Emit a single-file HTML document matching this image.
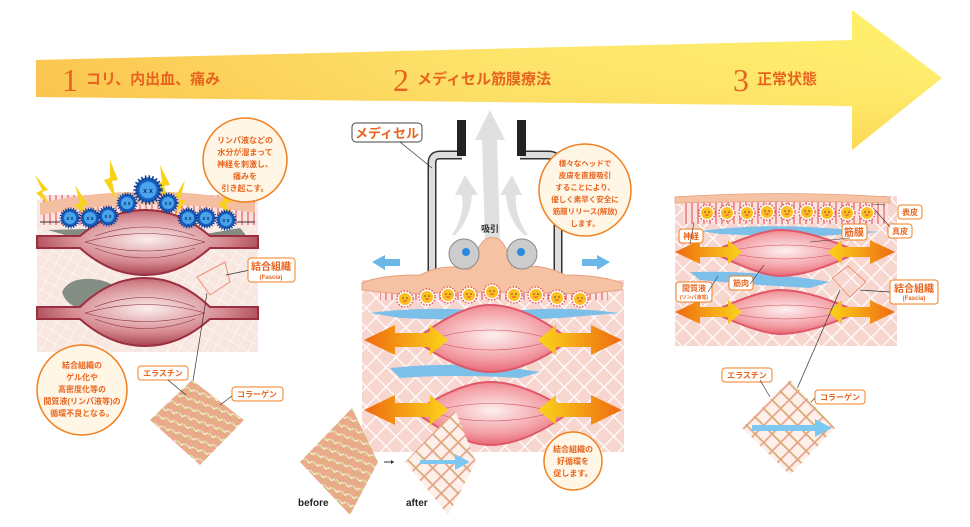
<!DOCTYPE html>
<html><head><meta charset="utf-8"><style>
html,body{margin:0;padding:0;background:#fff;width:970px;height:527px;overflow:hidden}
text{font-family:"Liberation Sans","Noto Sans CJK JP",sans-serif;font-weight:bold}
text.num{font-family:"Liberation Serif",serif;font-weight:normal}
</style></head><body>
<svg width="970" height="527" viewBox="0 0 970 527" xmlns="http://www.w3.org/2000/svg">
<defs>
<linearGradient id="ar" x1="0" y1="0" x2="1" y2="0"><stop offset="0" stop-color="#fbc445"/><stop offset="0.5" stop-color="#fde462"/><stop offset="1" stop-color="#fff066"/></linearGradient>
<linearGradient id="arv" x1="0" y1="0" x2="0" y2="1"><stop offset="0" stop-color="#fff" stop-opacity="0"/><stop offset="1" stop-color="#f5a623" stop-opacity="0.3"/></linearGradient>
<radialGradient id="m1" cx="0.5" cy="0.45" r="0.6"><stop offset="0" stop-color="#fbeeee"/><stop offset="0.6" stop-color="#d4878e"/><stop offset="1" stop-color="#9c3242"/></radialGradient>
<radialGradient id="m2" cx="0.5" cy="0.45" r="0.6"><stop offset="0" stop-color="#fdf0f0"/><stop offset="0.6" stop-color="#f3a0a6"/><stop offset="1" stop-color="#e55a6a"/></radialGradient>
<linearGradient id="oa" x1="0" y1="0" x2="1" y2="0"><stop offset="0" stop-color="#ee6a10"/><stop offset="1" stop-color="#fbd41a"/></linearGradient>
<linearGradient id="ob" x1="1" y1="0" x2="0" y2="0"><stop offset="0" stop-color="#ee6a10"/><stop offset="1" stop-color="#fbd41a"/></linearGradient>
<pattern id="hx" width="14" height="14" patternUnits="userSpaceOnUse" patternTransform="rotate(45)"><rect width="14" height="14" fill="#f8d6d0"/><path d="M0 0H14M0 0V14" stroke="#fff" stroke-width="2.5"/></pattern>
<pattern id="hx1" width="10" height="10" patternUnits="userSpaceOnUse" patternTransform="rotate(30)"><rect width="10" height="10" fill="#f8e6e0"/><path d="M0 0H10M0 0V10" stroke="#fff" stroke-width="1"/></pattern>
<pattern id="nv" width="6" height="20" patternUnits="userSpaceOnUse"><rect width="6" height="20" fill="#fbe3dd"/><path d="M2 0V20" stroke="#e04050" stroke-width="1"/></pattern>
<pattern id="mesh" width="12" height="12" patternUnits="userSpaceOnUse" patternTransform="rotate(45)"><rect width="12" height="12" fill="#fdf0ea"/><path d="M0 0H12M0 0V12" stroke="#eba08a" stroke-width="3.5"/><path d="M0 0H12" stroke="#9ccc3a" stroke-width="0.8"/></pattern>
<pattern id="mess" width="9" height="9" patternUnits="userSpaceOnUse" patternTransform="rotate(20)"><rect width="9" height="9" fill="#eea88e"/><path d="M0 4C3 0 6 8 9 4" stroke="#fde2d6" stroke-width="2" fill="none"/><path d="M0 1L9 8" stroke="#9ccc3a" stroke-width="0.7"/></pattern>
<g id="sun"><circle r="8" fill="#fff" stroke="#e85a5a" stroke-width="1.5" stroke-dasharray="1.5 1.5"/><circle r="6" fill="#fbc020"/><circle cx="-2" cy="-1" r="0.8" fill="#733"/><circle cx="2" cy="-1" r="0.8" fill="#733"/><path d="M-2.5 1.5Q0 4 2.5 1.5" fill="#e44" /></g>
<g id="vir"><circle r="9" fill="#1a5fbf" stroke="#0a3a8a" stroke-width="3" stroke-dasharray="1 1.5"/><circle r="6" fill="#4aa4ec"/><text x="0" y="2" font-size="5" text-anchor="middle" fill="#036">x x</text></g>
</defs>

<path d="M36 60 L852 40 L852 10 L942 78 L852 150 L852 106 L36 97 Z" fill="url(#ar)"/>
<path d="M36 60 L852 40 L852 10 L942 78 L852 150 L852 106 L36 97 Z" fill="url(#arv)"/>
<text class="num" x="62" y="91" font-size="32" fill="#e8641e">1</text>
<text x="86" y="84" font-size="15" fill="#e8641e">コリ、内出血、痛み</text>
<text class="num" x="393" y="91" font-size="32" fill="#e8641e">2</text>
<text x="417" y="84" font-size="15" fill="#e8641e">メディセル筋膜療法</text>
<text class="num" x="733" y="91" font-size="32" fill="#e8641e">3</text>
<text x="757" y="84" font-size="15" fill="#e8641e">正常状態</text>

<!-- PANEL 1 -->
<rect x="37" y="200" width="221" height="152" fill="url(#hx1)"/>
<rect x="40" y="195" width="215" height="30" fill="url(#nv)"/>
<path d="M40 203 Q150 180 255 203 L255 213 Q150 195 40 215Z" fill="#f3bfa0"/>
<path d="M48 230 L120 228 L150 245 L170 252 L200 235 L240 228 L250 240 L200 250 L130 254 Z" fill="#6e7c72" opacity="0.85"/>
<path d="M62 292 Q70 275 100 280 Q120 285 118 295 Q100 300 80 308 Q66 305 62 292Z" fill="#6e7c72" opacity="0.85"/>
<path d="M37 236 H80 Q110 210 145 210 Q180 210 210 236 H258 V248 H210 Q180 275 145 275 Q110 275 80 248 H37Z" fill="url(#m1)" stroke="#9b2f3f" stroke-width="2"/>
<path d="M37 307 H80 Q110 278 145 278 Q180 278 210 307 H258 V319 H210 Q180 346 145 346 Q110 346 80 319 H37Z" fill="url(#m1)" stroke="#9b2f3f" stroke-width="2"/>
<g stroke="#8e2f3c" stroke-width="0.6" fill="none"><path d="M85 242Q145 225 205 242"/><path d="M85 242Q145 260 205 242"/><path d="M95 236Q145 218 195 236"/><path d="M95 248Q145 268 195 248"/><path d="M85 313Q145 296 205 313"/><path d="M85 313Q145 330 205 313"/><path d="M95 307Q145 288 195 307"/><path d="M95 319Q145 338 195 319"/></g>
<g fill="#f8d21a"><path d="M35 175L48 190L42 192L50 205L36 193L42 190Z"/><path d="M110 160L118 180L112 181L116 200L104 180L110 178Z"/><path d="M160 165L170 185L164 186L170 205L156 184L162 182Z"/><path d="M185 180L180 200L186 200L176 215L180 198L175 197Z"/><path d="M75 185L88 205L82 206L90 218L74 205L80 203Z"/><path d="M220 185L232 202L226 203L232 218L218 203L224 201Z"/></g>
<use href="#vir" transform="translate(148 190) scale(1.4) translate(-148 -190)" x="148" y="190"/>
<use href="#vir" x="127" y="203"/><use href="#vir" x="168" y="203"/><use href="#vir" x="108" y="216"/><use href="#vir" x="90" y="218"/><use href="#vir" x="70" y="218"/><use href="#vir" x="188" y="218"/><use href="#vir" x="206" y="218"/><use href="#vir" x="226" y="220"/>
<path d="M40 222H60M255 222H237" stroke="#333" stroke-width="1"/>
<circle cx="245" cy="160" r="42" fill="#fff6e6" stroke="#f08020" stroke-width="1.5"/>
<g font-size="8" fill="#e8641e" text-anchor="middle"><text x="245" y="143">リンパ液などの</text><text x="245" y="155">水分が溜まって</text><text x="245" y="167">神経を刺激し、</text><text x="245" y="179">痛みを</text><text x="245" y="191">引き起こす。</text></g>
<circle cx="82" cy="390" r="45" fill="#fff6e6" stroke="#f08020" stroke-width="1.5"/>
<g font-size="8" fill="#e8641e" text-anchor="middle"><text x="82" y="368">結合組織の</text><text x="82" y="380">ゲル化や</text><text x="82" y="392">高密度化等の</text><text x="82" y="404">間質液(リンパ液等)の</text><text x="82" y="416">循環不良となる。</text></g>
<path d="M197 277L225 262L230 282L210 295Z" fill="none" stroke="#f09070" stroke-width="1"/>
<path d="M226 275L250 270M207 293L190 400" stroke="#333" stroke-width="0.7"/>
<rect x="248" y="258" width="47" height="24" rx="3" fill="#fff" stroke="#f08020"/>
<text x="271" y="270" font-size="10" fill="#e8641e" text-anchor="middle">結合組織</text>
<text x="271" y="279" font-size="6" fill="#e8641e" text-anchor="middle" font-weight="normal">(Fascia)</text>
<path d="M192 380L244 420L200 465L150 420Z" fill="url(#mess)"/>
<rect x="138" y="366" width="50" height="14" rx="3" fill="#fff" stroke="#f08020"/><text x="163" y="376" font-size="8" fill="#e8641e" text-anchor="middle">エラスチン</text>
<rect x="232" y="387" width="51" height="14" rx="3" fill="#fff" stroke="#f08020"/><text x="257" y="397" font-size="8" fill="#e8641e" text-anchor="middle">コラーゲン</text>
<path d="M168 380L186 395M232 396L220 405" stroke="#333" stroke-width="0.7"/>

<!-- PANEL 2 -->
<rect x="362" y="280" width="262" height="172" fill="url(#hx)"/>
<rect x="380" y="278" width="228" height="22" fill="url(#nv)"/>
<g fill="#e0e0e0"><path d="M490 110 L505 140 L497 140 L500 240 L485 240 L482 140 L475 140Z"/><path d="M465 175L478 195L472 195Q470 220 455 235L452 235Q465 215 462 195L455 195Z"/><path d="M512 175L522 195L516 195Q514 215 528 235L524 235Q508 220 506 195L500 195Z"/></g>
<path d="M462 155 H440 Q432 155 432 163 V275 M520 155 H548 Q558 155 558 163 V275" fill="none" stroke="#333" stroke-width="9"/>
<path d="M462 155 H440 Q432 155 432 163 V275 M520 155 H548 Q558 155 558 163 V275" fill="none" stroke="#ddd" stroke-width="6"/>
<rect x="457" y="120" width="9" height="36" fill="#222"/><rect x="517" y="120" width="9" height="36" fill="#222"/>
<path d="M362 283 Q380 275 420 275 Q445 262 470 270 Q480 235 492 238 Q505 235 512 268 Q540 262 565 275 Q600 275 622 283 L622 290 Q600 292 585 294 Q490 290 400 294 Q380 292 362 290Z" fill="#f5c3a3" stroke="#e8a080" stroke-width="1"/>
<circle cx="464" cy="254" r="15" fill="#ccc" stroke="#888"/><circle cx="466" cy="252" r="4" fill="#2b8ae0"/>
<circle cx="522" cy="254" r="15" fill="#ccc" stroke="#888"/><circle cx="521" cy="252" r="4" fill="#2b8ae0"/>
<text x="490" y="232" font-size="9" fill="#333" text-anchor="middle">吸引</text>
<path d="M372 262 L385 255 V259 H400 V266 H385 V270Z" fill="#6ab8e8"/>
<path d="M610 262 L597 255 V259 H582 V266 H597 V270Z" fill="#6ab8e8"/>
<use href="#sun" x="405" y="299"/><use href="#sun" x="427" y="297"/><use href="#sun" x="448" y="295"/><use href="#sun" x="469" y="295"/><use href="#sun" x="492" y="292"/><use href="#sun" x="514" y="295"/><use href="#sun" x="536" y="295"/><use href="#sun" x="557" y="298"/><use href="#sun" x="580" y="299"/>
<path d="M370 313 Q430 305 500 312 Q560 305 620 313 L560 318 Q490 322 400 318Z" fill="#7cc0ea"/>
<path d="M390 368 Q470 360 540 372 L520 378 Q450 374 400 378Z" fill="#7cc0ea"/>
<path d="M415 340 Q460 305 490 305 Q525 305 570 340 Q525 372 490 372 Q460 372 415 340Z" fill="url(#m2)" stroke="#e05868" stroke-width="2"/>
<path d="M415 412 Q460 382 490 382 Q525 382 570 412 Q525 445 490 445 Q460 445 415 412Z" fill="url(#m2)" stroke="#e05868" stroke-width="2"/>
<g stroke="#d05060" stroke-width="0.6" fill="none"><path d="M430 340Q490 320 555 340"/><path d="M430 340Q490 360 555 340"/><path d="M430 412Q490 395 555 412"/><path d="M430 412Q490 430 555 412"/></g>
<g><path d="M364 340 L395 325 V333 H430 V325 L448 340 L430 355 V347 H395 V355Z" fill="url(#oa)"/><path d="M622 340 L591 325 V333 H556 V325 L538 340 L556 355 V347 H591 V355Z" fill="url(#ob)"/>
<path d="M364 410 L395 395 V403 H430 V395 L448 410 L430 425 V417 H395 V425Z" fill="url(#oa)"/><path d="M622 410 L591 395 V403 H556 V395 L538 410 L556 425 V417 H591 V425Z" fill="url(#ob)"/></g>
<rect x="352" y="123" width="70" height="19" rx="4" fill="#fff" stroke="#444"/><text x="387" y="138" font-size="13" fill="#e8641e" text-anchor="middle">メディセル</text>
<path d="M400 142L432 168" stroke="#333" stroke-width="0.7"/>
<circle cx="585" cy="190" r="46" fill="#fff6e6" stroke="#f08020" stroke-width="1.5"/>
<g font-size="7.5" fill="#e8641e" text-anchor="middle"><text x="585" y="166">様々なヘッドで</text><text x="585" y="178">皮膚を直接吸引</text><text x="585" y="190">することにより、</text><text x="585" y="202">優しく素早く安全に</text><text x="585" y="214">筋膜リリース(解放)</text><text x="585" y="226">します。</text></g>
<circle cx="573" cy="461" r="29" fill="#fff6e6" stroke="#f08020" stroke-width="1.5"/>
<g font-size="8" fill="#e8641e" text-anchor="middle"><text x="573" y="452">結合組織の</text><text x="573" y="464">好循環を</text><text x="573" y="476">促します。</text></g>
<path d="M352 408L378 462L350 515L300 462Z" fill="url(#mess)"/>
<path d="M455 410L476 462L448 515L405 462Z" fill="url(#mesh)"/>
<path d="M420 460H455V454L470 462L455 470V464H420Z" fill="#7cc8f0"/>
<path d="M384 462H394" stroke="#333"/><path d="M394 462l-3 -2v4z" fill="#333"/>
<text x="298" y="506" font-size="10" fill="#222">before</text>
<text x="406" y="506" font-size="10" fill="#222">after</text>

<!-- PANEL 3 -->
<rect x="675" y="196" width="222" height="150" fill="url(#hx)"/>
<rect x="683" y="196" width="205" height="28" fill="url(#nv)"/>
<path d="M675 197 Q780 190 890 197 L890 203 Q780 200 675 203Z" fill="#f5c3a3" stroke="#e8a080" stroke-width="0.8"/>
<use href="#sun" x="707" y="213"/><use href="#sun" x="727" y="213"/><use href="#sun" x="747" y="213"/><use href="#sun" x="767" y="212"/><use href="#sun" x="787" y="212"/><use href="#sun" x="807" y="212"/><use href="#sun" x="827" y="213"/><use href="#sun" x="847" y="213"/><use href="#sun" x="867" y="213"/>
<path d="M700 231 Q770 222 850 230 L880 232 L820 236 Q760 236 720 234Z" fill="#7cc0ea"/>
<path d="M690 272 Q760 270 830 282 L810 288 Q750 285 700 280Z" fill="#7cc0ea"/>
<path d="M712 252 Q760 230 780 230 Q810 230 858 252 Q810 276 780 276 Q760 276 712 252Z" fill="url(#m2)" stroke="#e05868" stroke-width="2"/>
<path d="M712 312 Q760 290 780 290 Q810 290 858 312 Q810 334 780 334 Q760 334 712 312Z" fill="url(#m2)" stroke="#e05868" stroke-width="2"/>
<g stroke="#d05060" stroke-width="0.5" fill="none"><path d="M725 252Q785 238 845 252"/><path d="M725 252Q785 266 845 252"/><path d="M725 312Q785 298 845 312"/><path d="M725 312Q785 326 845 312"/></g>
<g><path d="M675 252 L700 240 V247 H728 V240 L742 252 L728 264 V257 H700 V264Z" fill="url(#oa)"/><path d="M895 252 L870 240 V247 H842 V240 L828 252 L842 264 V257 H870 V264Z" fill="url(#ob)"/>
<path d="M675 312 L700 300 V307 H728 V300 L742 312 L728 324 V317 H700 V324Z" fill="url(#oa)"/><path d="M895 312 L870 300 V307 H842 V300 L828 312 L842 324 V317 H870 V324Z" fill="url(#ob)"/></g>
<path d="M832 278L848 266L866 282L850 297Z" fill="none" stroke="#f09070"/>
<path d="M860 290L890 292M840 290L790 405" stroke="#333" stroke-width="0.7"/>
<g font-size="8" fill="#e8641e" text-anchor="middle">
<rect x="898" y="205" width="24" height="14" rx="3" fill="#fff" stroke="#f08020"/><text x="910" y="215">表皮</text>
<rect x="888" y="224" width="24" height="14" rx="3" fill="#fff" stroke="#f08020"/><text x="900" y="234">真皮</text>
<rect x="842" y="224" width="25" height="16" rx="3" fill="#fff" stroke="#f08020"/><text x="854" y="236" font-size="10">筋膜</text>
<rect x="679" y="229" width="24" height="14" rx="3" fill="#fff" stroke="#f08020"/><text x="691" y="239">神経</text>
<rect x="729" y="276" width="24" height="14" rx="3" fill="#fff" stroke="#f08020"/><text x="741" y="286">筋肉</text>
<rect x="676" y="282" width="36" height="20" rx="3" fill="#fff" stroke="#f08020"/><text x="694" y="291">間質液</text><text x="694" y="299" font-size="5">(リンパ液等)</text>
<rect x="890" y="280" width="48" height="24" rx="3" fill="#fff" stroke="#f08020"/><text x="914" y="292" font-size="10">結合組織</text><text x="914" y="300" font-size="6" font-weight="normal">(Fascia)</text>
<rect x="722" y="368" width="50" height="14" rx="3" fill="#fff" stroke="#f08020"/><text x="747" y="378">エラスチン</text>
<rect x="815" y="390" width="50" height="14" rx="3" fill="#fff" stroke="#f08020"/><text x="840" y="400">コラーゲン</text>
</g>
<path d="M690 244L694 222M750 284L764 265M708 292L718 276M810 242L850 238M760 380L770 397M815 398L805 408M872 204L885 205M875 210L890 227" stroke="#333" stroke-width="0.6"/>
<path d="M790 380L835 428L790 475L742 428Z" fill="url(#mesh)"/>
<path d="M752 425H815V419L832 428L815 437V431H752Z" fill="#7cc8f0"/>
</svg>
</body></html>
